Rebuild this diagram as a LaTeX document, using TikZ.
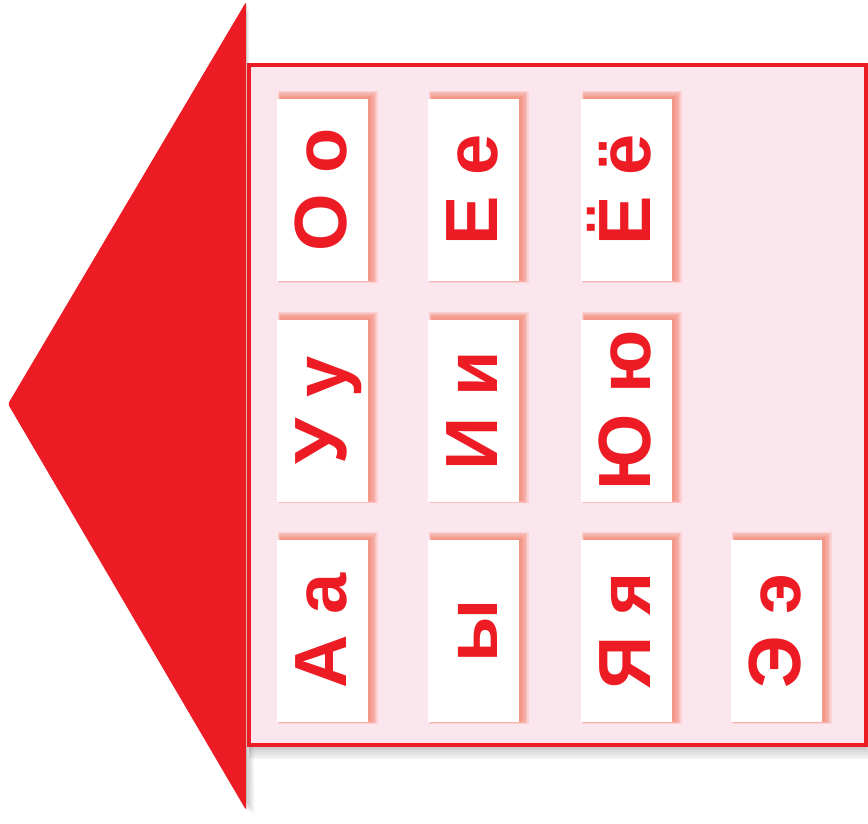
\documentclass[tikz,border=0pt]{standalone}
\usepackage{fontspec}
\setmainfont{Liberation Sans}
\definecolor{myred}{RGB}{237,28,36}
\definecolor{mypink}{RGB}{252,230,238}
\definecolor{myglow}{RGB}{242,115,85}
\tikzset{
  cardbox/.style={fill=white, minimum width=91pt, minimum height=182pt, inner sep=0pt, outer sep=0pt},
  lettertext/.style={text=myred, font=\bfseries\fontsize{74}{74}\selectfont, rotate=90, text height=53pt, text depth=0pt, inner sep=0pt},
  glowlayer/.style={fill=myglow, fill opacity=0.17},
  greylayer/.style={fill=black, fill opacity=0.03}
}
\newcommand{\mycard}[4]{%
  \foreach \k in {0,...,5}{
    \fill[glowlayer] (#2-45.5+4-0.6*\k,#3-91-2-1.2*\k) rectangle (#2+45.5+3+1.3*\k,#3+91-1+\k*0.5);
  }
  \node[cardbox] (#1) at (#2,#3) {};
  \node[lettertext] (#1t) at (#2-3,#3) {#4};
}
\begin{document}
\begin{tikzpicture}[x=1pt,y=-1pt]
\useasboundingbox (0,0) rectangle (868,824);
% grey shadows
\foreach \k in {1,...,8}{
  \fill[greylayer] (249,65) rectangle (866+\k*0.4,745+\k*1.8);
  \fill[greylayer] (245+\k*0.5,2+\k) -- (245+\k*1.2,810+\k*0.6) -- (8+\k*0.5,405) -- cycle;
}
% house body
\draw[myred, line width=4pt, fill=mypink] (249,65.5) rectangle (865.5,745);
% arrow roof
\fill[myred, rounded corners=1.5pt] (246,2) -- (246,810) -- (8,404) -- cycle;
% cards
\mycard{oo}{322.5}{190}{О о}
\mycard{ee}{473.5}{190}{Е е}
\mycard{yo}{626.5}{190}{Ё ё}
\mycard{uu}{322.5}{410.5}{У у}
\mycard{ii}{473.5}{410.5}{И и}
\mycard{yu}{626.5}{410.5}{Ю ю}
\mycard{aa}{322.5}{631}{А а}
\mycard{yy}{473.5}{631}{ы}
\mycard{ya}{626.5}{631}{Я я}
\mycard{ae}{776.5}{631}{Э э}
\end{tikzpicture}
\end{document}
